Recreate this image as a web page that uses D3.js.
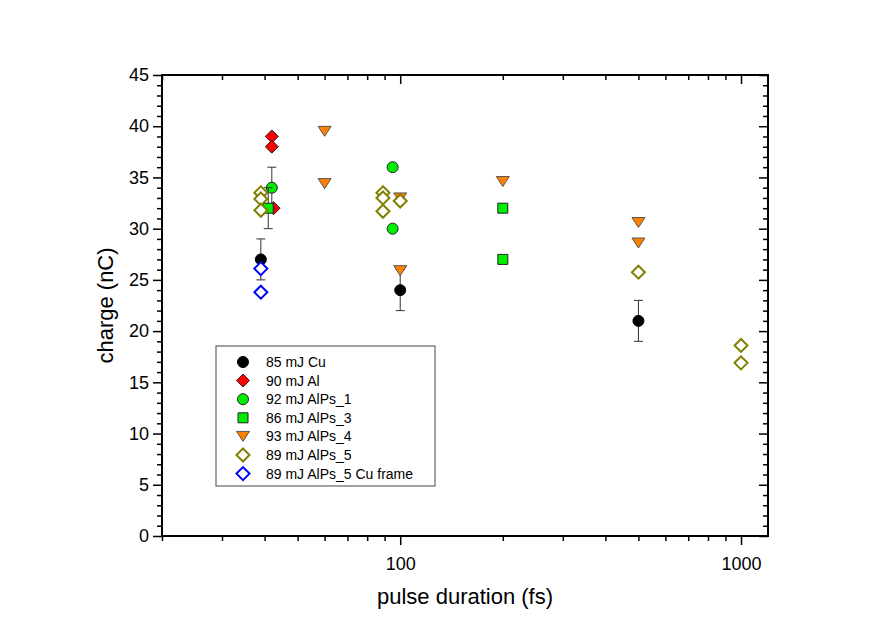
<!DOCTYPE html>
<html lang="en">
<head>
<meta charset="UTF-8">
<title>Charge vs pulse duration</title>
<script src="https://d3js.org/d3.v7.min.js"></script>
<style>
  html, body { margin: 0; padding: 0; background: #fff; }
  svg { display: block; }
  text { font-family: "Liberation Sans", Arial, sans-serif; fill: #000; }
  .axis path { display: none; }
  .axis line { stroke: #000; stroke-width: 1.5px; }
  .axis text { font-size: 18px; }
</style>
</head>
<body>
<svg width="880" height="634"></svg>
<script>
// ---- data ----
const seriesNames = ["85 mJ Cu", "90 mJ Al", "92 mJ AlPs_1", "86 mJ AlPs_3",
                     "93 mJ AlPs_4", "89 mJ AlPs_5", "89 mJ AlPs_5 Cu frame"];

const cuX = [39, 100, 500];
const cuY = [27, 24, 21];
const cuErr = [2, 2, 2];

const alX = [42, 42, 42.5];
const alY = [39, 38, 32];

const alps1X = [42, 95, 95];
const alps1Y = [34, 36, 30];
const alps1Err = [2, 0, 0];

const alps3X = [41, 200, 200];
const alps3Y = [32, 32, 27];
const alps3Err = [2, 0, 0];

const alps4X = [60, 60, 100, 100, 200, 500, 500];
const alps4Y = [39.5, 34.4, 33, 25.9, 34.6, 30.6, 28.6];

const alps5X = [39, 39, 39, 89, 89, 89, 100, 500, 1000, 1000];
const alps5Y = [33.5, 32.9, 31.8, 33.5, 33.0, 31.7, 32.7, 25.75, 18.6, 16.9];

const frameX = [39, 39];
const frameY = [26.1, 23.8];

const xMajor = [100, 1000];
const xMinor = [20, 30, 40, 50, 60, 70, 80, 90, 200, 300, 400, 500, 600, 700, 800, 900];
const yMajor = d3.range(0, 46, 5);
const yMinor = d3.range(0, 46, 1).filter(v => v % 5 !== 0);

// style per series (shape, fill, stroke)
const styles = [
  {shape: "circle",   fill: "#000000", stroke: "#000000", sw: 1},
  {shape: "diamond",  fill: "#ff0000", stroke: "#222222", sw: 1},
  {shape: "circle",   fill: "#00ee00", stroke: "#222222", sw: 1},
  {shape: "square",   fill: "#00ee00", stroke: "#222222", sw: 1},
  {shape: "triangle", fill: "#ff8000", stroke: "#555555", sw: 1},
  {shape: "diamond",  fill: "#ffffff", stroke: "#808000", sw: 2},
  {shape: "diamond",  fill: "#ffffff", stroke: "#0000ff", sw: 2}
];

const zip = (xs, ys, es) => xs.map((x, i) => ({x, y: ys[i], err: es ? es[i] : 0}));
const series = [
  zip(cuX, cuY, cuErr),
  zip(alX, alY),
  zip(alps1X, alps1Y, alps1Err),
  zip(alps3X, alps3Y, alps3Err),
  zip(alps4X, alps4Y),
  zip(alps5X, alps5Y),
  zip(frameX, frameY)
];

// ---- layout ----
const svg = d3.select("svg");
const mLeft = 162, mRight = 768, mTop = 75, mBottom = 536;

const x = d3.scaleLog().domain([20, 1200]).range([mLeft, mRight]);
const y = d3.scaleLinear().domain([0, 45]).range([mBottom, mTop]);

function shapePath(shape) {
  switch (shape) {
    case "circle":   return "M5.5,0A5.5,5.5 0 1,1 -5.5,0A5.5,5.5 0 1,1 5.5,0Z";
    case "diamond":  return "M0,-6.5L6.5,0L0,6.5L-6.5,0Z";
    case "square":   return "M-5,-5H5V5H-5Z";
    case "triangle": return "M-6.5,-5H6.5L0,5Z";
  }
}

// ---- axes ----
const fmt = d => d;
svg.append("g").attr("class", "axis").attr("transform", `translate(0,${mBottom})`)
  .call(d3.axisBottom(x).tickValues(xMajor).tickFormat(fmt).tickSize(9).tickPadding(12));
svg.append("g").attr("class", "axis").attr("transform", `translate(0,${mBottom})`)
  .call(d3.axisBottom(x).tickValues(xMinor).tickFormat("").tickSize(5));
svg.append("g").attr("class", "axis").attr("transform", `translate(0,${mTop})`)
  .call(d3.axisBottom(x).tickValues(xMajor).tickFormat("").tickSize(9));
svg.append("g").attr("class", "axis").attr("transform", `translate(0,${mTop})`)
  .call(d3.axisBottom(x).tickValues(xMinor).tickFormat("").tickSize(5));

svg.append("g").attr("class", "axis").attr("transform", `translate(${mLeft},0)`)
  .call(d3.axisLeft(y).tickValues(yMajor).tickFormat(fmt).tickSize(9).tickPadding(4));
svg.append("g").attr("class", "axis").attr("transform", `translate(${mLeft},0)`)
  .call(d3.axisLeft(y).tickValues(yMinor).tickFormat("").tickSize(5));
svg.append("g").attr("class", "axis").attr("transform", `translate(${mRight},0)`)
  .call(d3.axisLeft(y).tickValues(yMajor).tickFormat("").tickSize(9));
svg.append("g").attr("class", "axis").attr("transform", `translate(${mRight},0)`)
  .call(d3.axisLeft(y).tickValues(yMinor).tickFormat("").tickSize(5));

svg.append("rect")
  .attr("x", mLeft).attr("y", mTop)
  .attr("width", mRight - mLeft).attr("height", mBottom - mTop)
  .attr("fill", "none").attr("stroke", "#000").attr("stroke-width", 2);

// axis titles
svg.append("text")
  .attr("x", (mLeft + mRight) / 2).attr("y", 604)
  .attr("text-anchor", "middle").style("font-size", "22px")
  .text("pulse duration (fs)");
svg.append("text")
  .attr("transform", `translate(113,${(mTop + mBottom) / 2}) rotate(-90)`)
  .attr("text-anchor", "middle").style("font-size", "22px")
  .text("charge (nC)");

// ---- error bars + markers, in series order ----
const plot = svg.append("g");
series.forEach((data, i) => {
  const st = styles[i];
  const g = plot.append("g");
  const eb = g.selectAll(".eb").data(data.filter(d => d.err > 0)).enter().append("g")
    .attr("stroke", "#333").attr("stroke-width", 1);
  eb.append("line")
    .attr("x1", d => x(d.x)).attr("x2", d => x(d.x))
    .attr("y1", d => y(d.y + d.err)).attr("y2", d => y(d.y - d.err));
  eb.append("line")
    .attr("x1", d => x(d.x) - 4.5).attr("x2", d => x(d.x) + 4.5)
    .attr("y1", d => y(d.y + d.err)).attr("y2", d => y(d.y + d.err));
  eb.append("line")
    .attr("x1", d => x(d.x) - 4.5).attr("x2", d => x(d.x) + 4.5)
    .attr("y1", d => y(d.y - d.err)).attr("y2", d => y(d.y - d.err));

  g.selectAll(".pt").data(data).enter().append("path")
    .attr("d", shapePath(st.shape))
    .attr("transform", d => `translate(${x(d.x)},${y(d.y)})`)
    .attr("fill", st.fill).attr("stroke", st.stroke).attr("stroke-width", st.sw);
});

// ---- legend ----
const lg = svg.append("g").attr("transform", "translate(216,346)");
lg.append("rect").attr("width", 219).attr("height", 140)
  .attr("fill", "#fff").attr("stroke", "#444").attr("stroke-width", 1);
const item = lg.selectAll(".item").data(seriesNames).enter().append("g")
  .attr("transform", (d, i) => `translate(0,${16 + i * 18.6})`);
item.append("path")
  .attr("d", (d, i) => shapePath(styles[i].shape))
  .attr("transform", "translate(27,0)")
  .attr("fill", (d, i) => styles[i].fill)
  .attr("stroke", (d, i) => styles[i].stroke)
  .attr("stroke-width", (d, i) => styles[i].sw);
item.append("text")
  .attr("x", 50).attr("dy", "0.36em")
  .style("font-size", "14px")
  .text(d => d);
</script>
</body>
</html>
